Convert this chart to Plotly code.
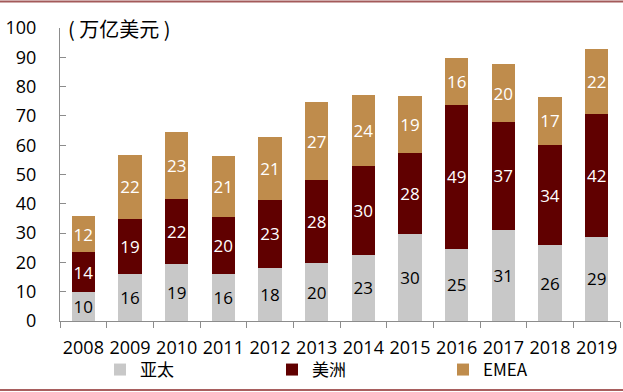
import plotly.graph_objects as go

years = ["2008", "2009", "2010", "2011", "2012", "2013", "2014", "2015", "2016", "2017", "2018", "2019"]
apac = [9.8, 15.9, 19.3, 15.9, 18.2, 19.7, 22.6, 29.6, 24.6, 31.2, 25.8, 28.8]
americas = [13.7, 19.0, 22.2, 19.7, 23.2, 28.3, 30.3, 27.8, 49.1, 36.6, 34.2, 42.0]
emea = [12.2, 21.7, 22.9, 20.7, 21.4, 26.7, 24.1, 19.3, 16.1, 19.8, 16.6, 21.9]

names = ["亚太", "美洲", "EMEA"]
colors = ["#c8c8c8", "#600000", "#bf8c4c"]
text_colors = ["#000000", "#ffffff", "#ffffff"]
legend_ids = ["legend", "legend2", "legend3"]
legend_px = [100, 272, 443]  # left edge of each legend box, px

W, H = 623, 392
L, R, T, B = 60, 3, 28, 71
pw = W - L - R
ph = H - T - B

fig = go.Figure()
for vals, name, col, tcol, lid in zip([apac, americas, emea], names, colors, text_colors, legend_ids):
    fig.add_trace(go.Bar(
        x=years, y=vals, name=name, legend=lid,
        marker=dict(color=col, line=dict(width=0)),
        text=[str(round(v)) for v in vals],
        textposition="inside", insidetextanchor="middle", textangle=0,
        constraintext="none",
        textfont=dict(family="Open Sans", size=17, color=tcol),
        width=0.5,
    ))

legend_common = dict(
    orientation="h", xanchor="left", yanchor="middle",
    y=(T + ph - 370) / ph,
    font=dict(family="Noto Sans CJK SC", size=17, color="#000000"),
    bgcolor="rgba(0,0,0,0)",
)
layout_legends = {}
for lid, px in zip(legend_ids, legend_px):
    layout_legends[lid] = dict(legend_common, x=(px - L) / pw)

fig.update_layout(
    barmode="stack",
    width=W, height=H,
    margin=dict(l=L, r=R, t=T, b=B, autoexpand=False),
    plot_bgcolor="white", paper_bgcolor="white",
    font=dict(family="Open Sans", size=17, color="#000000"),
    showlegend=True,
    xaxis=dict(
        showline=True, linecolor="#8c8c8c", linewidth=1,
        ticks="outside", ticklen=6, tickcolor="#8c8c8c", tickson="boundaries",
        tickfont=dict(family="Open Sans", size=18), tickangle=0,
        ticklabelstandoff=10, automargin=False,
        showgrid=False, range=[-0.5, 11.5],
    ),
    yaxis=dict(
        range=[0, 100], dtick=10,
        showline=True, linecolor="#8c8c8c", linewidth=1,
        ticks="inside", ticklen=6, tickcolor="#8c8c8c",
        tickfont=dict(family="Open Sans", size=18),
        ticklabelstandoff=19, automargin=False,
        showgrid=False, zeroline=False,
    ),
    annotations=[dict(
        text="( 万亿美元 )", xref="paper", yref="paper",
        x=(66 - L) / pw, y=1.0, xanchor="left", yanchor="middle",
        showarrow=False, font=dict(family="Noto Sans CJK SC", size=20, color="#000000"),
    )],
    shapes=[
        dict(type="line", xref="paper", yref="paper",
             x0=-L / pw, x1=(W - L) / pw, y0=(T + ph - 1.5) / ph, y1=(T + ph - 1.5) / ph,
             line=dict(color="#a35a5a", width=2)),
        dict(type="line", xref="paper", yref="paper",
             x0=-L / pw, x1=(W - L) / pw, y0=(T + ph - 390) / ph, y1=(T + ph - 390) / ph,
             line=dict(color="#8b2a2a", width=1.5)),
    ],
    **layout_legends,
)

fig.write_html(
    "out.html",
    config={"displayModeBar": False},
    post_script="document.body.style.margin='0';document.body.style.padding='0';",
)
